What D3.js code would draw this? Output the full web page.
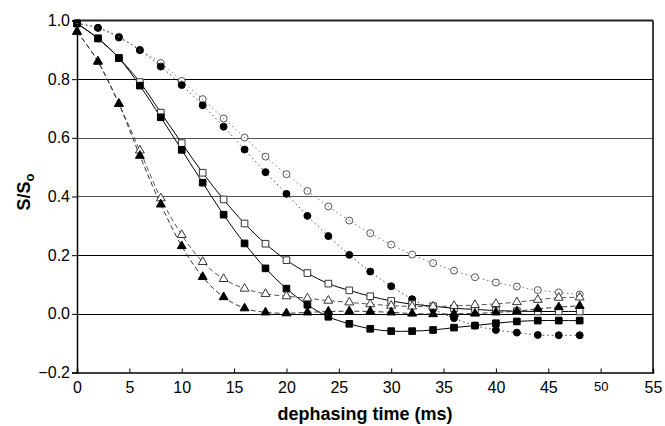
<!DOCTYPE html>
<html><head><meta charset="utf-8">
<script src="https://cdn.jsdelivr.net/npm/d3@7"></script>
<style>body{margin:0;background:#fff}svg{display:block}text{font-family:"Liberation Sans",Arial,sans-serif}</style>
</head><body><svg id="c" width="665" height="426"></svg>
<script>
const times = [0,2,4,6,8,10,12,14,16,18,20,22,24,26,28,30,32,34,36,38,40,42,44,46,48];
const openCircles = [0.99,0.975,0.945,0.90,0.855,0.794,0.732,0.666,0.601,0.536,0.476,0.419,0.366,0.318,0.275,0.236,0.202,0.173,0.147,0.125,0.107,0.093,0.081,0.073,0.066];
const filledCircles = [0.99,0.975,0.942,0.899,0.843,0.780,0.711,0.638,0.560,0.483,0.409,0.334,0.265,0.201,0.144,0.094,0.050,0.016,-0.015,-0.040,-0.055,-0.064,-0.072,-0.073,-0.073];
const openSquares = [0.99,0.939,0.872,0.79,0.686,0.582,0.481,0.39,0.308,0.239,0.183,0.139,0.103,0.080,0.060,0.044,0.033,0.026,0.019,0.015,0.011,0.009,0.008,0.008,0.008];
const filledSquares = [0.99,0.939,0.872,0.778,0.670,0.559,0.447,0.338,0.240,0.155,0.086,0.031,-0.010,-0.034,-0.051,-0.059,-0.059,-0.055,-0.047,-0.040,-0.032,-0.026,-0.023,-0.023,-0.023];
const openTriangles = [0.962,0.86,0.716,0.557,0.394,0.269,0.177,0.119,0.086,0.068,0.060,0.053,0.045,0.039,0.033,0.028,0.025,0.025,0.027,0.030,0.034,0.040,0.048,0.055,0.056];
const filledTriangles = [0.962,0.86,0.716,0.539,0.373,0.231,0.126,0.057,0.019,0.005,0.002,0.005,0.008,0.009,0.008,0.005,0.001,-0.001,0.0,0.001,0.005,0.009,0.017,0.023,0.027];
const xTicks = [0,5,10,15,20,25,30,35,40,45,50,55];
const yTicks = [-0.2,0.0,0.2,0.4,0.6,0.8,1.0];
const gridValues = [0.0,0.2,0.4,0.6,0.8];

const svg = d3.select("#c");
const L=77, R=653, T=20.5, B=372.5;
const x = d3.scaleLinear().domain([0,55]).range([L,R]);
const y = d3.scaleLinear().domain([-0.2,1.0]).range([B,T]);

// grid
svg.append("g").selectAll("line").data(gridValues).join("line")
  .attr("x1",L).attr("x2",R).attr("y1",d=>Math.round(y(d))+0.5).attr("y2",d=>Math.round(y(d))+0.5)
  .attr("stroke",(d)=> (d===0.4||d===0.6)?"#555":"#000").attr("stroke-width",1);
// frame
svg.append("line").attr("x1",L).attr("x2",R).attr("y1",T).attr("y2",T).attr("stroke","#222").attr("stroke-width",2);
svg.append("line").attr("x1",R).attr("x2",R).attr("y1",T).attr("y2",B).attr("stroke","#000").attr("stroke-width",1.5);

// axes
const xAxis = svg.append("g").attr("transform",`translate(0,${B})`)
  .call(d3.axisBottom(x).tickValues(xTicks).tickSize(-4).tickPadding(9).tickFormat(d3.format("d")));
xAxis.select(".domain").attr("stroke","#000").attr("stroke-width",1.5);
xAxis.selectAll(".tick line").attr("stroke","#000");
xAxis.selectAll("text").attr("font-size",d=>d===50?13:16).attr("fill","#000").attr("dy",d=>d===50?"0.71em":"0.71em");
const yAxis = svg.append("g").attr("transform",`translate(${L},0)`)
  .call(d3.axisLeft(y).tickValues(yTicks).tickSize(5).tickPadding(2).tickFormat(d3.format(".1f")));
yAxis.select(".domain").attr("stroke","#000").attr("stroke-width",1.5);
yAxis.selectAll(".tick line").attr("stroke","#000");
yAxis.selectAll("text").attr("font-size",16).attr("fill","#000");

// labels
svg.append("text").attr("x",(L+R)/2).attr("y",420).attr("text-anchor","middle")
  .attr("font-size",18).attr("font-weight","bold").text("dephasing time (ms)");
const yl = svg.append("text").attr("transform","translate(30,192) rotate(-90)").attr("text-anchor","middle")
  .attr("font-size",18).attr("font-weight","bold");
yl.append("tspan").text("S/S");
yl.append("tspan").attr("font-size",13).attr("dy",4).text("o");

const series = [
  {v:openCircles, dash:"1.5,3", stroke:"#777", mark:"circle", fill:"#fff", mstroke:"#555"},
  {v:filledCircles, dash:"1.5,3", stroke:"#444", mark:"circle", fill:"#000", mstroke:"#000"},
  {v:openSquares, dash:null, stroke:"#000", mark:"square", fill:"#fff", mstroke:"#333"},
  {v:filledSquares, dash:null, stroke:"#000", mark:"square", fill:"#000", mstroke:"#000"},
  {v:openTriangles, dash:"5,3", stroke:"#555", mark:"triangle", fill:"#fff", mstroke:"#333"},
  {v:filledTriangles, dash:"5,3", stroke:"#333", mark:"triangle", fill:"#000", mstroke:"#000"}
];
const line = d3.line().x((d,i)=>x(times[i])).y(d=>y(d)).curve(d3.curveCardinal.tension(0));
const gL = svg.append("g"), gM = svg.append("g");
series.forEach(s=>{
  gL.append("path").attr("d",line(s.v)).attr("fill","none").attr("stroke",s.stroke)
    .attr("stroke-width",1).attr("stroke-dasharray",s.dash);
});
const sym = {circle:d3.symbolCircle, square:d3.symbolSquare, triangle:d3.symbolTriangle};
const size = {circle:38, square:44, triangle:34};
series.forEach(s=>{
  gM.append("g").selectAll("path").data(s.v).join("path")
    .attr("transform",(d,i)=>`translate(${x(times[i])},${y(d)})`)
    .attr("d",d3.symbol().type(sym[s.mark]).size(size[s.mark]))
    .attr("fill",s.fill).attr("stroke",s.mstroke).attr("stroke-width",1);
});
// small dot inside open circles
gM.append("g").selectAll("circle").data(openCircles).join("circle")
  .attr("cx",(d,i)=>x(times[i])).attr("cy",d=>y(d)).attr("r",0.7).attr("fill","#888");
</script></body></html>
